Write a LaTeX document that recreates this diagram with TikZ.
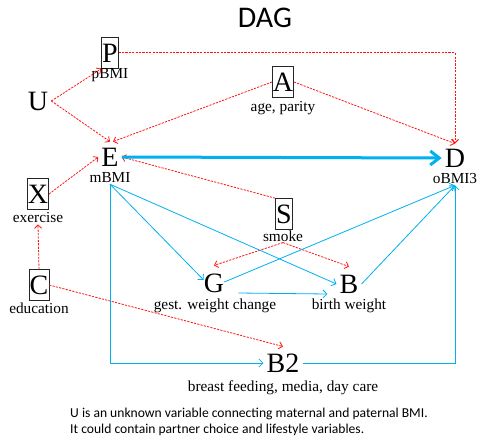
\documentclass[tikz,border=0pt]{standalone}
\usepackage{fontspec}
\setmainfont{Liberation Serif}
\newfontfamily\calib{Carlito}
\usetikzlibrary{arrows.meta}
\definecolor{pathblue}{RGB}{0,176,240}
\definecolor{confred}{RGB}{255,20,20}
\tikzset{
  letter/.style={font=\fontsize{28}{30}\selectfont, inner sep=3pt},
  boxed/.style={draw=black!85, line width=0.6pt, font=\fontsize{28}{30}\selectfont,
    inner xsep=0.6pt, inner ysep=0pt, text height=25pt, text depth=6pt},
  lab/.style={font=\fontsize{15.3}{17}\selectfont, inner sep=1pt},
  redarr/.style={draw=confred, line width=0.8pt, dash pattern=on 2.2pt off 1.2pt,
    -{Straight Barb[length=3.5pt,width=7pt]}},
  bluearr/.style={draw=pathblue, line width=0.8pt,
    -{Straight Barb[length=4pt,width=8pt]}},
  thickarr/.style={draw=pathblue, line width=3pt,
    -{Straight Barb[length=9pt,width=14pt,line width=3pt]}},
}
\begin{document}
\begin{tikzpicture}[x=1pt,y=-1pt]
\useasboundingbox (0,0) rectangle (478,441);

% title
\node[font=\calib\fontsize{30}{32}\selectfont] (title) at (265,18) {DAG};

% variables
\node[letter] (U) at (38,101) {U};
\node[boxed] (P) at (110,53) {P};
\node[lab] (Pl) at (110,75) {pBMI};
\node[letter] (E) at (110,157) {E};
\node[lab] (El) at (110,178) {mBMI};
\node[boxed] (A) at (283,82) {A};
\node[lab] (Al) at (283,108) {age, parity};
\node[letter] (D) at (455,158) {D};
\node[lab] (Dl) at (455,179) {oBMI3};
\node[boxed] (X) at (38,194) {X};
\node[lab] (Xl) at (38,218) {exercise};
\node[boxed] (C) at (39,285) {C};
\node[lab] (Cl) at (39,308) {education};
\node[boxed] (S) at (284,214) {S};
\node[lab] (Sl) at (283,236) {smoke};
\node[letter] (G) at (214,283) {G};
\node[lab] (Gl) at (215,306) {gest. weight change};
\node[letter] (B) at (349,284) {B};
\node[lab] (Bl) at (349,306) {birth weight};
\node[letter] (B2) at (283,363) {B2};
\node[lab] (B2l) at (283,388) {breast feeding, media, day care};

% corner of the P -> D path
\coordinate (Dtop) at ([yshift=2pt]D.north);
\coordinate (PDcorner) at (Dtop |- P.east);

% confounding paths
\draw[redarr] (U.east) -- (P.south west);
\draw[redarr] (U.east) -- ([yshift=3pt]E.north);
\draw[redarr] (A.west) -- ([xshift=3pt,yshift=3pt]E.north);
\draw[redarr] (A.east) -- (Dtop);
\draw[redarr, line width=1pt] (P.east) -- (PDcorner) -- (Dtop);
\draw[redarr] (X.east) -- (E.west);
\draw[redarr] (C.north) -- (Xl.south);
\draw[redarr] (C.east) -- ([yshift=4pt]B2.north);
\draw[redarr] (S.north west) -- (E.east);
\draw[redarr] (Sl.south) -- ([yshift=5pt]G.north);
\draw[redarr] (Sl.south) -- ([yshift=5pt]B.north);

% causal paths
\draw[thickarr] (E.east) -- (D.west);
\draw[bluearr] (El.south) -- ([xshift=3pt,yshift=3pt]G.west);
\draw[bluearr] (El.south) -- (B.west);
\draw[bluearr] (El.south) |- (B2.west);
\draw[bluearr] ([xshift=-3pt,yshift=1pt]G.east) -- (Dl.south);
\draw[bluearr] ([xshift=11pt,yshift=-10pt]G.east) -- ([xshift=-9pt,yshift=-10pt]B.west);
\draw[bluearr] (B.east) -- (Dl.south);
\draw[bluearr] (B2.east) -| (Dl.south);

% note
\node[font=\calib\fontsize{13.6}{16}\selectfont, align=left, anchor=north west, inner sep=0pt] (note) at (70,408)
  {U is an unknown variable connecting maternal and paternal BMI.\\
   It could contain partner choice and lifestyle variables.};
\end{tikzpicture}
\end{document}
